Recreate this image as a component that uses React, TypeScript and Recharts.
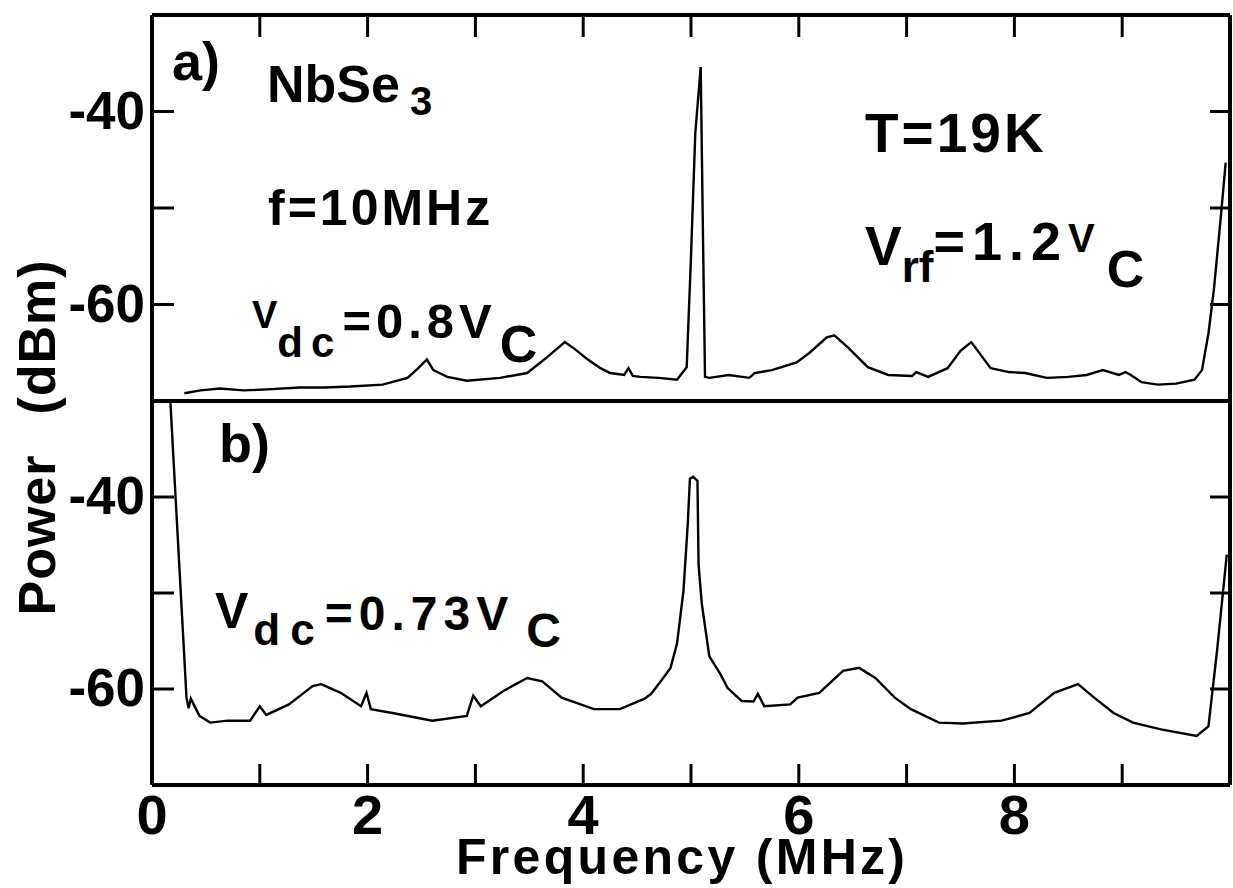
import { LineChart, Line, XAxis, YAxis, ReferenceLine, CartesianGrid } from "recharts";

const FONT = "'Liberation Sans', Arial, Helvetica, sans-serif";

// panel a) V_dc = 0.8 V_c
const freqA = [
    0.30, 0.45, 0.63, 0.85, 1.07, 1.37, 1.60, 1.84, 2.14, 2.37, 2.47, 2.55, 2.61, 2.74, 2.92,
    3.23, 3.48, 3.66, 3.83, 3.92, 4.03, 4.16, 4.25, 4.38, 4.42, 4.46, 4.53, 4.70, 4.87, 4.96,
    5.00, 5.04, 5.09, 5.11, 5.13, 5.17, 5.35, 5.54, 5.59, 5.75, 5.98, 6.10, 6.26, 6.33, 6.46,
    6.64, 6.83, 7.05, 7.09, 7.20, 7.38, 7.50, 7.60, 7.78, 7.95, 8.10, 8.30, 8.50, 8.67, 8.82,
    8.97, 9.03, 9.08, 9.18, 9.33, 9.50, 9.67, 9.74, 9.80, 9.85, 9.91, 9.96,
];
const powerA = [
    -69.2, -68.9, -68.7, -68.9, -68.8, -68.6, -68.6, -68.5, -68.3, -67.6, -66.6, -65.7, -66.8, -67.5, -67.9,
    -67.6, -67.1, -65.5, -63.9, -64.6, -65.6, -66.6, -67.1, -67.3, -66.6, -67.4, -67.5, -67.6, -67.8, -66.5,
    -55.0, -42.2, -35.4, -52.0, -67.5, -67.6, -67.3, -67.6, -67.1, -66.8, -66.0, -65.0, -63.4, -63.2, -64.5,
    -66.5, -67.3, -67.4, -67.0, -67.5, -66.6, -64.8, -63.9, -66.6, -67.0, -67.1, -67.6, -67.5, -67.3, -66.8,
    -67.3, -67.0, -67.3, -68.05, -68.3, -68.2, -67.8, -66.8, -63.0, -58.5, -51.5, -45.3,
];

// panel b) V_dc = 0.73 V_c
const freqB = [
    0.17, 0.32, 0.34, 0.36, 0.44, 0.54, 0.70, 0.91, 1.00, 1.06, 1.27, 1.49, 1.57, 1.75, 1.94,
    1.99, 2.03, 2.23, 2.60, 2.92, 2.98, 3.05, 3.26, 3.48, 3.62, 3.80, 4.10, 4.34, 4.57, 4.63,
    4.72, 4.81, 4.87, 4.93, 4.97, 4.99, 5.02, 5.06, 5.07, 5.10, 5.17, 5.27, 5.34, 5.47, 5.58,
    5.62, 5.68, 5.92, 5.99, 6.19, 6.41, 6.56, 6.71, 6.89, 7.04, 7.30, 7.52, 7.88, 8.14, 8.37,
    8.59, 8.74, 8.92, 9.10, 9.36, 9.69, 9.80, 9.88, 9.97,
];
const powerB = [
    -30.0, -60.9, -62.0, -61.0, -62.8, -63.5, -63.3, -63.3, -61.8, -62.7, -61.6, -59.7, -59.5, -60.4, -61.8,
    -60.4, -62.1, -62.5, -63.3, -62.8, -60.7, -61.8, -60.2, -58.85, -59.2, -60.9, -62.1, -62.1, -61.0, -60.5,
    -59.2, -57.8, -55.3, -49.8, -42.8, -38.1, -37.9, -38.3, -47.0, -51.1, -56.6, -58.4, -59.9, -61.25, -61.3,
    -60.5, -61.8, -61.6, -60.9, -60.4, -58.1, -57.8, -58.85, -60.9, -62.1, -63.5, -63.6, -63.3, -62.5, -60.4,
    -59.5, -60.9, -62.5, -63.5, -64.2, -64.9, -63.9, -56.0, -46.0,
];

const xTicks = [0, 1, 2, 3, 4, 5, 6, 7, 8, 9, 10];
const xLabels = [0, 2, 4, 6, 8];
const yTicks = [-60, -50, -40];
const yLabels = [-40, -60];

const dataA = freqA.map((f, i) => ({ f, p: powerA[i] }));
const dataB = freqB.map((f, i) => ({ f, p: powerB[i] }));

const frame = { stroke: "#000", strokeWidth: 4 };

function LeftTick(props: any) {
    const { x, y, payload } = props;
    const v = payload.value;
    if (!yLabels.includes(v)) return <g />;
    return (
        <text x={x - 7} y={y + 17} textAnchor="end" fontSize={53} fontWeight="bold" fontFamily={FONT} fill="#000">
            {v}
        </text>
    );
}

function BottomTick(props: any) {
    const { x, y, payload } = props;
    const v = payload.value;
    if (!xLabels.includes(v)) return <g />;
    return (
        <text x={x} y={y + 49} textAnchor="middle" fontSize={56} fontWeight="bold" fontFamily={FONT} fill="#000">
            {v}
        </text>
    );
}

// top-edge tick drawn by the axis itself: a short line pointing down into panel a
function TopTick(props: any) {
    const { x, y, payload } = props;
    const v = payload.value;
    if (v <= 0 || v >= 10) return <g />;
    return <line x1={x} x2={x} y1={y} y2={y + 22} stroke="#000" strokeWidth={3} />;
}

// short inward ticks drawn through the grid, left and right edges
function HTicks(p: any) {
    return (
        <g>
            <line x1={p.x1} x2={p.x1 + 22} y1={p.y1} y2={p.y1} stroke="#000" strokeWidth={3} />
            <line x1={p.x2 - 20} x2={p.x2} y1={p.y2} y2={p.y2} stroke="#000" strokeWidth={3} />
        </g>
    );
}

// inward ticks at the bottom edge of panel b
function VTicksBottom(p: any) {
    const bottom = Math.max(p.y1, p.y2);
    return <line x1={p.x2} x2={p.x2} y1={bottom} y2={bottom - 21} stroke="#000" strokeWidth={3} />;
}

function LeftYAxis() {
    return (
        <YAxis
            yAxisId="left"
            type="number"
            domain={[-70, -30]}
            allowDataOverflow
            ticks={yTicks}
            width={152}
            tickSize={0}
            tickMargin={0}
            tickLine={false}
            tick={(p: any) => <LeftTick {...p} />}
            axisLine={frame}
        />
    );
}

export default function App() {
    const txt = { fontFamily: FONT, fontWeight: "bold" as const, fill: "#000" };
    return (
        <div style={{ position: "absolute", left: 0, top: 0, width: 1233, height: 888, background: "#fff" }}>
            <style>{`.recharts-surface{overflow:visible}`}</style>

            <div style={{ position: "absolute", left: 0, top: 0 }}>
                <LineChart width={1233} height={401} data={dataA} margin={{ top: 15, right: 3, bottom: 0, left: 0 }}>
                    <XAxis
                        xAxisId="x"
                        orientation="bottom"
                        type="number"
                        dataKey="f"
                        domain={[0, 10]}
                        allowDataOverflow
                        ticks={xTicks}
                        hide
                    />
                    {LeftYAxis()}
                    <CartesianGrid xAxisId="x" yAxisId="left" vertical={false}
                                   horizontal={(p: any) => <HTicks {...p} />} />
                    <ReferenceLine xAxisId="x" yAxisId="left" y={-30} stroke="#000" strokeWidth={4} />
                    <ReferenceLine xAxisId="x" yAxisId="left" x={10} stroke="#000" strokeWidth={4} />
                    <Line xAxisId="x" yAxisId="left" type="linear" dataKey="p" stroke="#000" strokeWidth={2.4}
                          dot={false} isAnimationActive={false} />
                </LineChart>
            </div>

            <div style={{ position: "absolute", left: 0, top: 401 }}>
                <LineChart width={1233} height={487} data={dataB} margin={{ top: 0, right: 3, bottom: 0, left: 0 }}>
                    <XAxis
                        xAxisId="x"
                        orientation="bottom"
                        type="number"
                        dataKey="f"
                        domain={[0, 10]}
                        allowDataOverflow
                        ticks={xTicks}
                        height={103}
                        tickSize={0}
                        tickMargin={0}
                        tickLine={false}
                        tick={(p: any) => <BottomTick {...p} />}
                        axisLine={frame}
                    />
                    {LeftYAxis()}
                    <CartesianGrid xAxisId="x" yAxisId="left" horizontal={(p: any) => <HTicks {...p} />}
                                   vertical={(p: any) => <VTicksBottom {...p} />} />
                    <ReferenceLine xAxisId="x" yAxisId="left" y={-30} stroke="#000" strokeWidth={4} />
                    <ReferenceLine xAxisId="x" yAxisId="left" x={10} stroke="#000" strokeWidth={4} />
                    <Line xAxisId="x" yAxisId="left" type="linear" dataKey="p" stroke="#000" strokeWidth={2.4}
                          dot={false} isAnimationActive={false} />
                </LineChart>
            </div>

            {/* top edge of panel a: a thin strip chart whose bottom x axis sits on the frame line,
                laid over the top so its ticks point down into panel a */}
            <div style={{ position: "absolute", left: 0, top: 0 }}>
                <LineChart width={1233} height={60} data={dataA} margin={{ top: 0, right: 3, bottom: 0, left: 152 }}>
                    <XAxis
                        xAxisId="x"
                        orientation="bottom"
                        type="number"
                        dataKey="f"
                        domain={[0, 10]}
                        allowDataOverflow
                        ticks={xTicks}
                        height={45}
                        tickSize={0}
                        tickMargin={0}
                        tickLine={false}
                        tick={(p: any) => <TopTick {...p} />}
                        axisLine={false}
                    />
                    <YAxis yAxisId="left" type="number" domain={[-70, -30]} allowDataOverflow hide />
                </LineChart>
            </div>

            <svg width={1233} height={888} style={{ position: "absolute", left: 0, top: 0, pointerEvents: "none" }}>
                {/* axis titles */}
                <text x={55} y={535} transform="rotate(-90 55 535)" textAnchor="middle" fontSize={52} letterSpacing={1} {...txt}>Power</text>
                <text x={55} y={337} transform="rotate(-90 55 337)" textAnchor="middle" fontSize={52} letterSpacing={1} {...txt}>(dBm)</text>
                <text x={456} y={874} fontSize={50} letterSpacing={3.3} {...txt}>Frequency (MHz)</text>

                {/* panel a */}
                <text x={172} y={80} fontSize={54} {...txt}>a)</text>
                <text x={267} y={102} fontSize={52} {...txt}>
                    NbSe<tspan dx={10} y={115} fontSize={40}>3</tspan>
                </text>
                <text x={268} y={225} fontSize={50} letterSpacing={3} {...txt}>f=10MHz</text>
                <text x={252} {...txt}>
                    <tspan y={328} fontSize={38}>V</tspan>
                    <tspan y={357} fontSize={42} letterSpacing={8}>dc</tspan>
                    <tspan y={338} fontSize={49} letterSpacing={5}>=0.8V</tspan>
                    <tspan y={362} dx={3} fontSize={52}>C</tspan>
                </text>
                <text x={865} y={152} fontSize={55} letterSpacing={3} {...txt}>T=19K</text>
                <text x={865} {...txt}>
                    <tspan y={265} fontSize={55}>V</tspan>
                    <tspan y={282} fontSize={44}>rf</tspan>
                    <tspan y={260} fontSize={54} letterSpacing={7}>=1.2</tspan>
                    <tspan y={252} fontSize={40}>V</tspan>
                    <tspan y={287} dx={12} fontSize={52}>C</tspan>
                </text>

                {/* panel b */}
                <text x={219} y={462} fontSize={54} {...txt}>b)</text>
                <text x={215} {...txt}>
                    <tspan y={628} fontSize={50}>V</tspan>
                    <tspan y={645} dx={5} fontSize={44} letterSpacing={10}>dc</tspan>
                    <tspan y={630} fontSize={48} letterSpacing={6}>=0.73V</tspan>
                    <tspan y={647} dx={12} fontSize={48}>C</tspan>
                </text>
            </svg>
        </div>
    );
}
